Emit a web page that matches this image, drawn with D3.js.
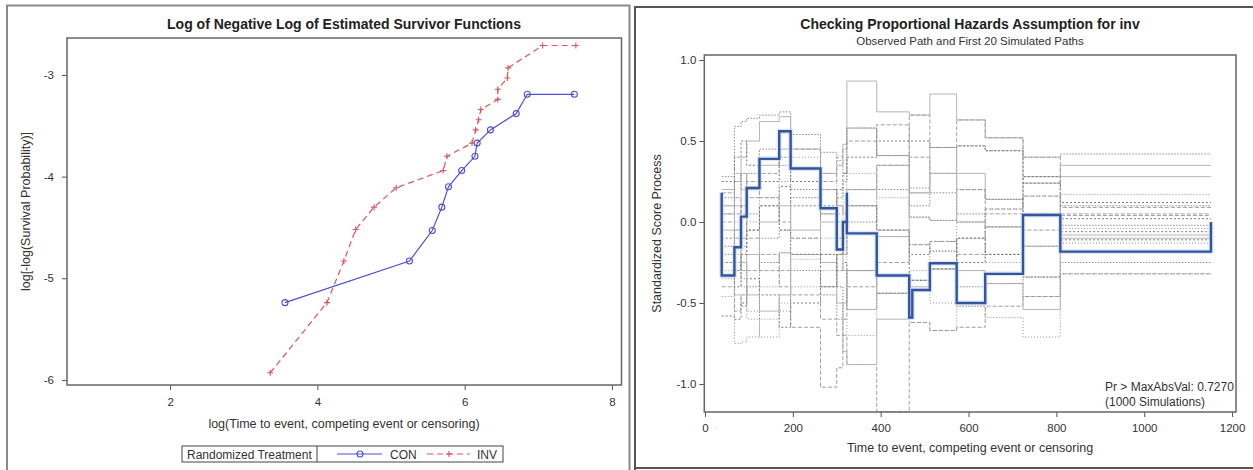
<!DOCTYPE html>
<html>
<head>
<meta charset="utf-8">
<script src="https://cdn.jsdelivr.net/npm/d3@7/dist/d3.min.js"></script>
<style>
  html, body { margin: 0; padding: 0; background: #fff; }
  svg { display: block; font-family: "Liberation Sans", Arial, sans-serif; }
  .tick text { fill: #333; font-size: 11.5px; }
  .tick line { stroke: #555; }
</style>
</head>
<body>
<svg id="chart" width="1253" height="470"></svg>
<script>
// ---- Left panel: log(-log S(t)) versus log(t) by treatment ----
const conLogTime = [3.56, 5.25, 5.56, 5.69, 5.78, 5.96, 6.14, 6.17, 6.35, 6.70, 6.85, 7.49];
const conLogLogS = [-5.24, -4.83, -4.53, -4.30, -4.10, -3.94, -3.80, -3.67, -3.54, -3.38, -3.19, -3.19];
const invLogTime = [3.36, 4.13, 4.36, 4.52, 4.77, 5.07, 5.71, 5.76, 6.10, 6.15, 6.19, 6.22, 6.45, 6.45, 6.58, 6.59, 7.06, 7.51];
const invLogLogS = [-5.93, -5.24, -4.83, -4.52, -4.30, -4.11, -3.94, -3.80, -3.67, -3.54, -3.44, -3.34, -3.24, -3.14, -3.03, -2.93, -2.71, -2.71];
const survXTicks = [2, 4, 6, 8];
const survYTicks = [-6, -5, -4, -3];
const groupNames = ["CON", "INV"];

// ---- Right panel: standardized score process for inv ----
const xTicksScore = [0, 200, 400, 600, 800, 1000, 1200];
const yTicksScore = [-1.0, -0.5, 0.0, 0.5, 1.0];
// observed path (time, value); repeated times give vertical jumps
const obsTime  = [38, 38, 67, 82, 95, 124, 169, 195, 263, 300, 314, 323, 323, 391, 465, 472, 512, 573, 638, 724, 809, 1152];
const obsScore = [0.18, -0.33, -0.156, 0.033, 0.21, 0.39, 0.56, 0.33, 0.085, -0.17, 0.0, 0.18, -0.07, -0.33, -0.59, -0.42, -0.255, -0.50, -0.32, 0.043, -0.183, 0.0];
// jump times shared by the simulated paths
const eventTimes = [38, 67, 82, 95, 124, 169, 195, 263, 300, 314, 323, 391, 465, 512, 573, 638, 724, 809, 1152];
// value of each simulated path on each interval between jump times
const simPaths = [
  [0.28, 0.59, 0.62, 0.64, 0.66, 0.68, 0.54, 0.43, 0.38, 0.30, 0.58, 0.41, 0.21, 0.30, 0.47, 0.44, 0.40, 0.42],
  [0.10, 0.25, 0.40, 0.50, 0.62, 0.65, 0.45, 0.30, 0.35, 0.48, 0.87, 0.68, 0.66, 0.79, 0.63, 0.52, 0.28, 0.35],
  [-0.10, -0.30, -0.20, -0.05, 0.10, 0.22, 0.10, -0.20, -0.30, -0.25, -0.54, -0.44, -0.36, -0.29, -0.10, -0.03, -0.15, -0.06],
  [0.05, 0.15, 0.05, -0.10, -0.30, -0.40, -0.65, -1.02, -0.90, -0.70, -0.88, -1.17, -0.62, -0.67, -0.65, -0.52, -0.46, -0.32],
  [-0.46, -0.75, -0.74, -0.71, -0.60, -0.50, -0.23, -0.10, 0.05, 0.20, 0.30, 0.15, 0.03, 0.01, 0.00, 0.08, 0.16, 0.17],
  [-0.20, -0.45, -0.52, -0.40, -0.25, -0.19, -0.30, -0.45, -0.60, -0.50, -0.30, -0.09, -0.14, -0.18, -0.40, -0.38, -0.34, -0.25],
  [0.20, 0.10, 0.30, 0.20, 0.35, 0.45, 0.33, 0.20, 0.10, 0.05, 0.20, 0.35, 0.18, 0.46, 0.30, 0.14, 0.24, 0.28],
  [-0.58, -0.60, -0.50, -0.35, -0.45, -0.65, -0.50, -0.40, -0.20, 0.00, 0.10, -0.05, -0.20, -0.12, -0.25, -0.20, -0.34, -0.11],
  [0.00, -0.10, 0.10, 0.25, 0.15, 0.00, -0.10, 0.25, 0.40, 0.45, 0.50, 0.60, 0.40, 0.30, 0.20, 0.05, -0.05, 0.04],
  [-0.30, -0.20, -0.35, -0.55, -0.71, -0.55, -0.40, -0.30, -0.40, -0.60, -0.70, -0.44, -0.36, -0.50, -0.52, -0.59, -0.71, -0.13],
  [0.15, 0.30, 0.20, 0.05, -0.10, -0.05, 0.15, 0.05, -0.10, -0.20, 0.00, 0.20, 0.10, 0.18, 0.05, -0.03, 0.05, 0.10],
  [-0.05, -0.15, -0.30, -0.20, 0.00, 0.10, -0.05, -0.25, -0.50, -0.80, -0.88, -0.60, -0.40, -0.29, -0.30, -0.38, -0.54, -0.10],
  [0.25, 0.40, 0.50, 0.35, 0.25, 0.40, 0.25, 0.10, 0.20, 0.30, 0.40, 0.50, 0.50, 0.46, 0.47, 0.44, 0.24, 0.02],
  [-0.40, -0.55, -0.45, -0.30, -0.20, -0.30, -0.45, -0.60, -0.70, -0.60, -0.40, -0.25, -0.14, -0.12, -0.20, 0.08, 0.16, 0.05],
  [0.10, 0.00, -0.15, 0.00, 0.15, 0.25, 0.40, 0.30, 0.10, -0.10, -0.30, -0.44, -0.30, -0.18, 0.00, -0.25, -0.15, -0.04],
  [-0.15, -0.05, 0.10, 0.30, 0.45, 0.35, 0.20, 0.05, 0.15, 0.25, 0.58, 0.41, 0.03, 0.01, 0.20, 0.14, 0.05, -0.02],
  [0.05, -0.05, -0.25, -0.45, -0.55, -0.45, -0.20, 0.00, -0.10, -0.30, -0.54, -0.09, 0.18, 0.30, 0.00, -0.03, -0.15, -0.08],
  [-0.25, -0.40, -0.20, -0.05, 0.10, -0.05, -0.20, -0.40, -0.20, -0.10, 0.10, -0.05, -0.36, -0.29, -0.10, -0.20, 0.28, 0.12],
  [0.18, 0.05, -0.10, 0.15, 0.30, 0.55, 0.45, 0.20, 0.00, -0.20, 0.20, 0.35, 0.66, 0.46, 0.63, 0.52, 0.40, 0.09],
  [-0.35, -0.25, -0.40, -0.60, -0.40, -0.19, -0.10, -0.20, -0.40, -0.50, -0.30, -0.44, -0.62, -0.67, -0.52, -0.38, -0.46, -0.32]
];
const pValueText = "Pr > MaxAbsVal: 0.7270";
const simCountText = "(1000 Simulations)";

const svg = d3.select("#chart");
// plain hyphen for negative numbers
const locale = d3.formatLocale({ decimal: ".", thousands: "", grouping: [3], currency: ["", ""], minus: "-" });

function frameAxes(g, x, y, xTicks, yTicks, xFmt, yFmt, xPad, yPad) {
  const [x0, x1] = x.range();
  const [y0, y1] = y.range();
  g.append("g").attr("transform", `translate(0,${y0})`)
    .call(d3.axisBottom(x).tickValues(xTicks).tickSize(5).tickSizeOuter(0).tickPadding(xPad).tickFormat(xFmt))
    .call(a => a.select(".domain").remove());
  g.append("g").attr("transform", `translate(${x0},0)`)
    .call(d3.axisLeft(y).tickValues(yTicks).tickSize(5).tickSizeOuter(0).tickPadding(yPad).tickFormat(yFmt))
    .call(a => a.select(".domain").remove());
  g.append("rect")
    .attr("x", x0).attr("y", y1).attr("width", x1 - x0).attr("height", y0 - y1)
    .attr("fill", "none").attr("stroke", "#666").attr("stroke-width", 1.5);
}

// ================= Left panel =================
const L = svg.append("g");
L.append("path")
  .attr("d", "M7,470 V5.5 H629.5 V470")
  .attr("fill", "none").attr("stroke", "#8a8a8a").attr("stroke-width", 2);

const xL = d3.scaleLinear().domain([0.6, 8.13]).range([67, 621.5]);
const yL = d3.scaleLinear().domain([-6.05, -2.636]).range([385, 38]);

L.append("text").attr("x", 344).attr("y", 29).attr("text-anchor", "middle")
  .attr("font-size", 14).attr("font-weight", "bold").attr("fill", "#222")
  .text("Log of Negative Log of Estimated Survivor Functions");

frameAxes(L, xL, yL, survXTicks, survYTicks, locale.format("d"), locale.format("d"), 8, 8);

L.append("text")
  .attr("transform", `translate(30,${(38 + 385) / 2}) rotate(-90)`)
  .attr("text-anchor", "middle").attr("font-size", 12.5).attr("fill", "#333")
  .text("log[-log(Survival Probability)]");
L.append("text").attr("x", 344).attr("y", 428).attr("text-anchor", "middle")
  .attr("font-size", 12.5).attr("fill", "#333")
  .text("log(Time to event, competing event or censoring)");

const conColor = "#4f4fd8", invColor = "#d9535e";
const lineL = d3.line().x(d => xL(d[0])).y(d => yL(d[1]));
const conPts = conLogTime.map((t, i) => [t, conLogLogS[i]]);
const invPts = invLogTime.map((t, i) => [t, invLogLogS[i]]);
const plusPath = "M-3,0H3M0,-3V3";

L.append("path").attr("d", lineL(invPts)).attr("fill", "none")
  .attr("stroke", invColor).attr("stroke-width", 1.2).attr("stroke-dasharray", "6,4");
L.append("path").attr("d", lineL(conPts)).attr("fill", "none")
  .attr("stroke", conColor).attr("stroke-width", 1.2);

L.selectAll(".conMark").data(conPts).join("circle")
  .attr("cx", d => xL(d[0])).attr("cy", d => yL(d[1])).attr("r", 3)
  .attr("fill", "none").attr("stroke", conColor).attr("stroke-width", 1.1);
L.selectAll(".invMark").data(invPts).join("path")
  .attr("transform", d => `translate(${xL(d[0])},${yL(d[1])})`)
  .attr("d", plusPath)
  .attr("fill", "none").attr("stroke", invColor).attr("stroke-width", 1.1);

// legend
const lg = L.append("g");
lg.append("rect").attr("x", 182).attr("y", 446).attr("width", 321).attr("height", 16)
  .attr("fill", "#fff").attr("stroke", "#444").attr("stroke-width", 1);
lg.append("text").attr("x", 187).attr("y", 458.5).attr("font-size", 12).attr("fill", "#333")
  .text("Randomized Treatment");
lg.append("line").attr("x1", 317).attr("x2", 317).attr("y1", 446).attr("y2", 462)
  .attr("stroke", "#444");
lg.append("line").attr("x1", 337).attr("x2", 382).attr("y1", 454).attr("y2", 454)
  .attr("stroke", conColor).attr("stroke-width", 1.2);
lg.append("circle").attr("cx", 360).attr("cy", 454).attr("r", 3)
  .attr("fill", "none").attr("stroke", conColor).attr("stroke-width", 1.1);
lg.append("text").attr("x", 390).attr("y", 458.5).attr("font-size", 12).attr("fill", "#333").text(groupNames[0]);
lg.append("line").attr("x1", 427).attr("x2", 470).attr("y1", 454).attr("y2", 454)
  .attr("stroke", invColor).attr("stroke-width", 1.2).attr("stroke-dasharray", "6,4");
lg.append("path").attr("transform", "translate(449,454)").attr("d", plusPath)
  .attr("fill", "none").attr("stroke", invColor).attr("stroke-width", 1.1);
lg.append("text").attr("x", 477).attr("y", 458.5).attr("font-size", 12).attr("fill", "#333").text(groupNames[1]);

// ================= Right panel =================
const R = svg.append("g");
R.append("path")
  .attr("d", "M635,470 V7 H1256 M635,468 H1256")
  .attr("fill", "none").attr("stroke", "#555").attr("stroke-width", 2);

const xR = d3.scaleLinear().domain([-1.6, 1209]).range([704.3, 1236]);
const yR = d3.scaleLinear().domain([-1.173, 1.031]).range([412, 55]);

R.append("text").attr("x", 970).attr("y", 29).attr("text-anchor", "middle")
  .attr("font-size", 14).attr("font-weight", "bold").attr("fill", "#222")
  .text("Checking Proportional Hazards Assumption for inv");
R.append("text").attr("x", 970).attr("y", 44.5).attr("text-anchor", "middle")
  .attr("font-size", 11.5).attr("fill", "#333")
  .text("Observed Path and First 20 Simulated Paths");

const stepLine = d3.line().curve(d3.curveStepAfter).x(d => xR(d[0])).y(d => yR(d[1]));
const simStyles = [
  { c: "#8c8c8c", d: "1.5,1.5" },
  { c: "#b5b5b5", d: null },
  { c: "#7a7a7a", d: "2,2" },
  { c: "#a0a0a0", d: "4,2" },
  { c: "#909090", d: "1,2" }
];
const plotR = R.append("g");
simPaths.forEach((vals, k) => {
  const pts = vals.map((v, i) => [eventTimes[i], v]);
  pts.push([eventTimes[eventTimes.length - 1], vals[vals.length - 1]]);
  const st = simStyles[k % simStyles.length];
  plotR.append("path").attr("d", stepLine(pts)).attr("fill", "none")
    .attr("stroke", st.c).attr("stroke-width", 1)
    .attr("stroke-dasharray", st.d);
});
const obsPts = obsTime.map((t, i) => [t, obsScore[i]]);
plotR.append("path").attr("d", stepLine(obsPts)).attr("fill", "none")
  .attr("stroke", "#c9d7f0").attr("stroke-width", 5).attr("opacity", 0.6);
plotR.append("path").attr("d", stepLine(obsPts)).attr("fill", "none")
  .attr("stroke", "#33559e").attr("stroke-width", 2.4);

frameAxes(R, xR, yR, xTicksScore, yTicksScore, locale.format("d"), locale.format(".1f"), 7, 3);

R.append("text")
  .attr("transform", `translate(661,${(55 + 412) / 2}) rotate(-90)`)
  .attr("text-anchor", "middle").attr("font-size", 12.5).attr("fill", "#333")
  .text("Standardized Score Process");
R.append("text").attr("x", 970).attr("y", 452).attr("text-anchor", "middle")
  .attr("font-size", 12.5).attr("fill", "#333")
  .text("Time to event, competing event or censoring");

R.append("text").attr("x", 1105).attr("y", 391).attr("font-size", 12).attr("fill", "#333").text(pValueText);
R.append("text").attr("x", 1105).attr("y", 406).attr("font-size", 12).attr("fill", "#333").text(simCountText);
</script>
</body>
</html>
